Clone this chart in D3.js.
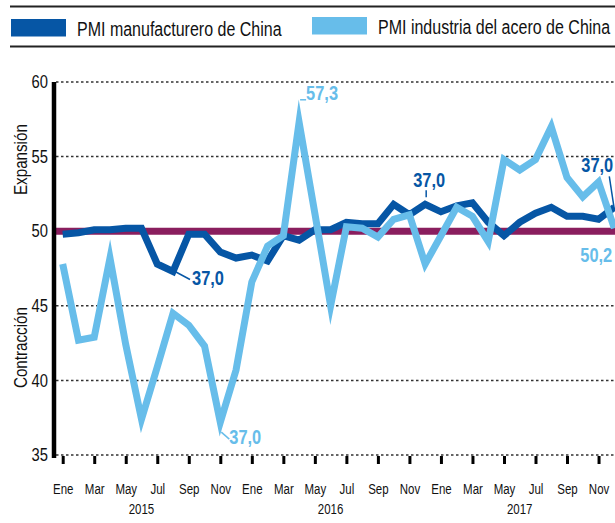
<!DOCTYPE html>
<html>
<head>
<meta charset="utf-8">
<script src="https://cdn.jsdelivr.net/npm/d3@7"></script>
<style>
  body { margin: 0; background: #fff; }
  svg text { font-family: "Liberation Sans", Arial, sans-serif; fill: #111; }
</style>
</head>
<body>
<div class="canvas"></div>
<script>
// monthly values, Ene 2015 .. Dic 2017
const monthNames = ["Ene", "Feb", "Mar", "Abr", "May", "Jun", "Jul", "Ago", "Sep", "Oct", "Nov", "Dic"];
const years = ["2015", "2016", "2017"];
const manufacturing = [
  49.8, 49.9, 50.1, 50.1, 50.2, 50.2, 47.8, 47.3, 49.8, 49.8, 48.6, 48.2,
  48.4, 48.0, 49.7, 49.4, 50.1, 50.1, 50.6, 50.5, 50.5, 51.8, 51.1, 51.8,
  51.3, 51.7, 51.9, 50.6, 49.7, 50.6, 51.2, 51.6, 51.0, 51.0, 50.8, 51.6
];
const steel = [
  47.8, 42.7, 42.9, 48.2, 42.4, 37.4, 40.9, 44.5, 43.7, 42.3, 37.2, 40.7,
  46.6, 49.0, 49.7, 57.3, 51.2, 45.0, 50.3, 50.2, 49.6, 50.8, 51.1, 47.8,
  49.7, 51.6, 51.0, 49.3, 54.8, 54.1, 54.8, 57.0, 53.6, 52.3, 53.3, 50.2
];
const yTicks = [35, 40, 45, 50, 55, 60];
const legendLabels = ["PMI manufacturero de China", "PMI industria del acero de China"];
const annotationTexts = ["37,0", "37,0", "57,3", "37,0", "37,0", "50,2"];

const darkBlue = "#0656a5";
const lightBlue = "#67bdea";
const purple = "#8a1e5e";
const squeeze = 0.82;

const width = 615;
const height = 523;

const svg = d3
  .select(".canvas")
  .append("svg")
  .attr("width", width)
  .attr("height", height);

//scales
const x = d3.scaleLinear().domain([0, 35]).range([62.7, 614.3]);
const y = d3.scaleLinear().domain([35, 60]).range([455, 82]);

//squeeze text horizontally to imitate a condensed face
const condense = (sel, f = squeeze) => {
  sel.each(function() {
    const w = this.getComputedTextLength();
    d3.select(this)
      .attr("textLength", w * f)
      .attr("lengthAdjust", "spacingAndGlyphs");
  });
};

//legend
const legend = svg.append("g").attr("class", "legend");
legend.append("line").attr("x1", 10).attr("x2", width).attr("y1", 6.5).attr("y2", 6.5)
  .attr("stroke", "#222").attr("stroke-width", 2);
legend.append("line").attr("x1", 10).attr("x2", width).attr("y1", 46.5).attr("y2", 46.5)
  .attr("stroke", "#222").attr("stroke-width", 2);

const legendItems = [
  { x: 11, y: 19, color: darkBlue, tx: 77, ty: 36 },
  { x: 312, y: 17, color: lightBlue, tx: 378, ty: 33.5 }
];
legendItems.forEach((item, i) => {
  legend.append("rect")
    .attr("x", item.x).attr("y", item.y)
    .attr("width", 55).attr("height", 17.5)
    .attr("fill", item.color);
  legend.append("text")
    .attr("x", item.tx).attr("y", item.ty)
    .attr("font-size", 20)
    .text(legendLabels[i]);
});
condense(legend.selectAll("text"), 0.8);

//grid lines
const grid = svg.append("g").attr("class", "grid");
grid.selectAll("line")
  .data(yTicks.filter(d => d != 50))
  .enter()
  .append("line")
  .attr("x1", 56)
  .attr("x2", width)
  .attr("y1", d => y(d))
  .attr("y2", d => y(d))
  .attr("stroke", "#333")
  .attr("stroke-width", 1.5)
  .attr("stroke-dasharray", "2.5,2.5");

//50 threshold line
svg.append("line")
  .attr("x1", 56)
  .attr("x2", width)
  .attr("y1", y(50))
  .attr("y2", y(50))
  .attr("stroke", purple)
  .attr("stroke-width", 7);

//y axis
const yAxisGroup = svg.append("g")
  .attr("class", "y-axis")
  .attr("transform", "translate(54, 0)");
yAxisGroup.call(d3.axisLeft(y).tickValues(yTicks).tickSize(0).tickPadding(6));
yAxisGroup.select(".domain").attr("stroke", "#000").attr("stroke-width", 4.5)
  .attr("d", `M0,${y(60)}V${y(35) + 3}`);
yAxisGroup.selectAll("text").attr("font-size", 18).attr("fill", "#111")
  .style("font-family", "'Liberation Sans', Arial, sans-serif");
condense(yAxisGroup.selectAll("text"));

//y axis titles
const titles = svg.append("g").attr("class", "y-titles");
titles.append("text")
  .attr("transform", `translate(27, ${y(54.8)}) rotate(-90)`)
  .attr("text-anchor", "middle")
  .attr("font-size", 18.5)
  .text("Expansión");
titles.append("text")
  .attr("transform", `translate(27, ${y(42.2)}) rotate(-90)`)
  .attr("text-anchor", "middle")
  .attr("font-size", 18.5)
  .text("Contracción");
condense(titles.selectAll("text"));

//x axis
const xAxisGroup = svg.append("g")
  .attr("class", "x-axis")
  .attr("transform", "translate(0, 456)");
xAxisGroup.call(
  d3.axisBottom(x)
    .tickValues(d3.range(0, 36, 2))
    .tickSize(8)
    .tickPadding(20)
    .tickFormat(i => monthNames[i % 12])
);
xAxisGroup.select(".domain").remove();
xAxisGroup.selectAll(".tick line").attr("stroke", "#000").attr("stroke-width", 3);
xAxisGroup.selectAll("text").attr("font-size", 14).attr("fill", "#111")
  .style("font-family", "'Liberation Sans', Arial, sans-serif");
condense(xAxisGroup.selectAll("text"));

const yearLabels = svg.append("g").attr("class", "years");
yearLabels.selectAll("text")
  .data(years)
  .enter()
  .append("text")
  .attr("x", (d, i) => x(i * 12 + 5))
  .attr("y", 514)
  .attr("text-anchor", "middle")
  .attr("font-size", 14)
  .text(d => d);
condense(yearLabels.selectAll("text"));

//line generator
const line = d3.line()
  .x((d, i) => x(i))
  .y(d => y(d));

svg.append("path")
  .datum(manufacturing)
  .attr("fill", "none")
  .attr("stroke", darkBlue)
  .attr("stroke-width", 7)
  .attr("stroke-linejoin", "miter")
  .attr("stroke-miterlimit", 30)
  .attr("d", line);

svg.append("path")
  .datum(steel)
  .attr("fill", "none")
  .attr("stroke", lightBlue)
  .attr("stroke-width", 7)
  .attr("stroke-linejoin", "miter")
  .attr("stroke-miterlimit", 30)
  .attr("d", line);

//value call-outs, anchored to their data point
const annotations = [
  { data: manufacturing, index: 7, color: darkBlue, lead: [2, 0, 17, 8], dx: 19, dy: 14, anchor: "start" },
  { data: steel, index: 10, color: lightBlue, lead: [1, 10, 9, 17], dx: 9, dy: 22, anchor: "start" },
  { data: steel, index: 15, color: lightBlue, lead: [1, -22.5, 7, -22.5], dx: 7, dy: -22, anchor: "start" },
  { data: manufacturing, index: 23, color: darkBlue, lead: [1, -7, 1, -14], dx: 4, dy: -17, anchor: "middle" },
  { data: manufacturing, index: 35, color: darkBlue, lead: [-5, -31, 0, 2], dx: -33, dy: -35, anchor: "start" },
  { data: steel, index: 35, color: lightBlue, lead: null, dx: -34, dy: 33.5, anchor: "start" }
];

const notes = svg.append("g").attr("class", "annotations");
annotations.forEach((a, i) => {
  const px = x(a.index);
  const py = y(a.data[a.index]);
  if (a.lead) {
    notes.append("line")
      .attr("x1", px + a.lead[0]).attr("y1", py + a.lead[1])
      .attr("x2", px + a.lead[2]).attr("y2", py + a.lead[3])
      .attr("stroke", a.color)
      .attr("stroke-width", 1.5);
  }
  notes.append("text")
    .attr("x", px + a.dx)
    .attr("y", py + a.dy)
    .attr("text-anchor", a.anchor)
    .attr("font-size", 20)
    .attr("font-weight", "bold")
    .style("fill", a.color)
    .text(annotationTexts[i]);
});
condense(notes.selectAll("text"));
</script>
</body>
</html>
